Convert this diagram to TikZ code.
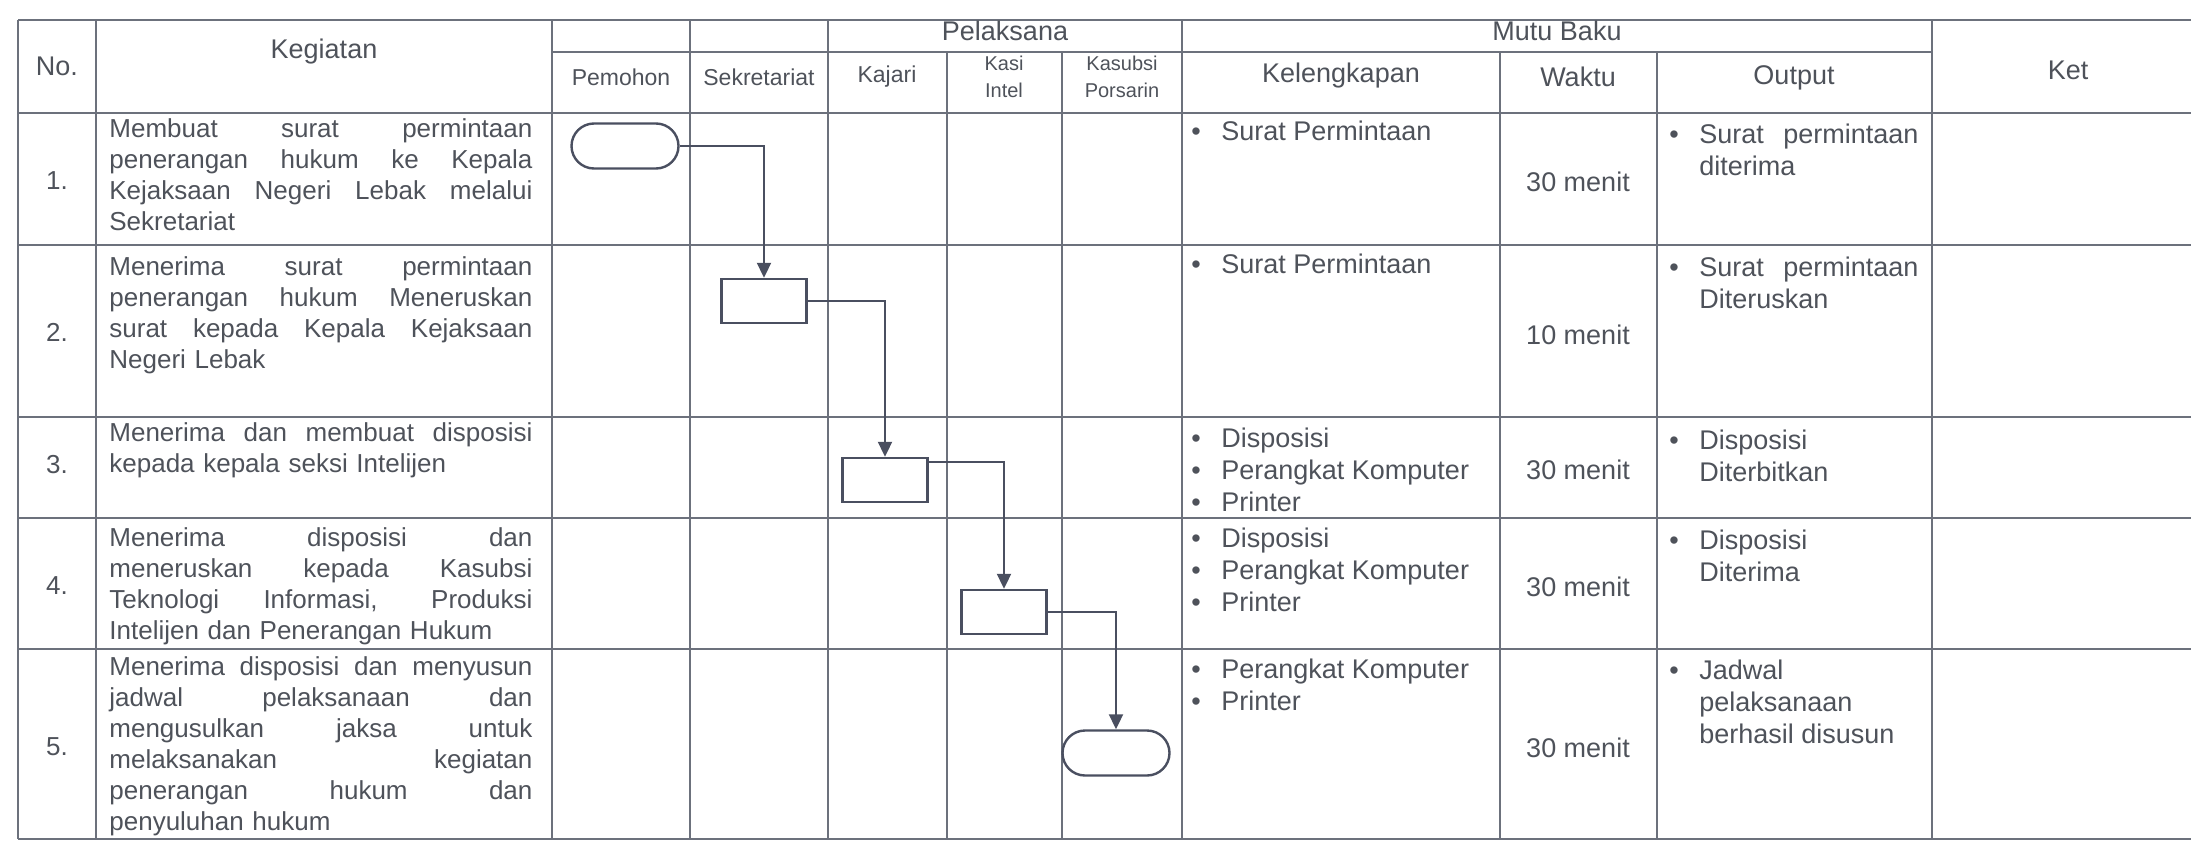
\documentclass[tikz,border=0pt]{standalone}
\usepackage{fontspec}
\setmainfont{Liberation Sans}
\usetikzlibrary{positioning, arrows.meta, shapes.misc}

\definecolor{gridline}{RGB}{108,113,124}
\definecolor{inktext}{RGB}{78,82,90}
\definecolor{flowline}{RGB}{74,79,96}

% justified line and bullet
\newcommand{\jl}[1]{\makebox[211.5pt][s]{\spaceskip=0.28em plus 1fil\relax #1}}
\newcommand{\bul}{\makebox[15pt][l]{\textbullet}}

\begin{document}
\begin{tikzpicture}[x=0.5pt, y=-0.5pt,
    % Styles
    tableline/.style={draw=gridline, line width=1pt},
    headtext/.style={font=\fontsize{13.5}{16}\selectfont, text=inktext, inner sep=0pt},
    subhead/.style={font=\fontsize{11.5}{13}\selectfont, text=inktext, inner sep=0pt},
    smallhead/.style={font=\fontsize{10}{13.5}\selectfont, text=inktext, align=center, inner sep=0pt},
    activity/.style={font=\fontsize{13}{15.5}\selectfont, text=inktext, inner sep=0pt, anchor=north west, text width=211.5pt, align=left},
    itemtext/.style={font=\fontsize{13.5}{16}\selectfont, text=inktext, inner sep=0pt, anchor=north west, align=left},
    numtext/.style={font=\fontsize{13}{15}\selectfont, text=inktext, inner sep=0pt},
    timetext/.style={font=\fontsize{13.5}{16}\selectfont, text=inktext, inner sep=0pt},
    terminal/.style={draw=flowline, line width=1.2pt, rounded rectangle, minimum width=53.5pt, minimum height=22.5pt, inner sep=0pt},
    process/.style={draw=flowline, line width=1.2pt, rectangle, minimum width=42.5pt, minimum height=22pt, inner sep=0pt},
    arrow/.style={-{Triangle[length=7.5pt, width=7pt]}, line width=1pt, flowline},
]
\useasboundingbox (0,0) rectangle (2191,841);

% Table grid
\draw[tableline] (18,20) -- (2191,20);
\draw[tableline] (552,52) -- (1932,52);
\draw[tableline] (18,113) -- (2191,113) (18,245) -- (2191,245) (18,417) -- (2191,417)
    (18,518) -- (2191,518) (18,649) -- (2191,649) (18,839) -- (2191,839);
\draw[tableline] (18,20) -- (18,839) (96,20) -- (96,839) (552,20) -- (552,839) (690,20) -- (690,839)
    (828,20) -- (828,839) (1182,20) -- (1182,839) (1932,20) -- (1932,839);
\draw[tableline] (947,52) -- (947,839) (1062,52) -- (1062,839) (1500,52) -- (1500,839) (1657,52) -- (1657,839);

% Header
\node[headtext] (hno) at (57,66) {No.};
\node[headtext] (hkeg) at (324,52) {Kegiatan};
\node[headtext] (hpel) at (1005,31) {Pelaksana};
\node[headtext] (hmutu) at (1557,31) {Mutu Baku};
\node[headtext] (hket) at (2068,70) {Ket};
\node[subhead] (hpem) at (621,77) {Pemohon};
\node[subhead] (hsek) at (759,77) {Sekretariat};
\node[subhead] (hkaj) at (887,77) {Kajari};
\node[smallhead] (hkasi) at (1004,77) {Kasi\\Intel};
\node[smallhead] (hkasub) at (1122,77) {Kasubsi\\Porsarin};
\node[headtext] (hkel) at (1341,76) {Kelengkapan};
\node[headtext] (hwak) at (1578,77) {Waktu};
\node[headtext] (hout) at (1794,78) {Output};

% Row numbers
\node[numtext] (n1) at (57,181) {1.};
\node[numtext] (n2) at (57,332) {2.};
\node[numtext] (n3) at (57,465) {3.};
\node[numtext] (n4) at (57,586) {4.};
\node[numtext] (n5) at (57,747) {5.};

% Kegiatan
\node[activity] (k1) at (109,118) {\jl{Membuat surat permintaan}\\\jl{penerangan hukum ke Kepala}\\\jl{Kejaksaan Negeri Lebak melalui}\\Sekretariat};
\node[activity] (k2) at (109,256) {\jl{Menerima surat permintaan}\\\jl{penerangan hukum Meneruskan}\\\jl{surat kepada Kepala Kejaksaan}\\Negeri Lebak};
\node[activity] (k3) at (109,422) {\jl{Menerima dan membuat disposisi}\\kepada kepala seksi Intelijen};
\node[activity] (k4) at (109,527) {\jl{Menerima disposisi dan}\\\jl{meneruskan kepada Kasubsi}\\\jl{Teknologi Informasi, Produksi}\\Intelijen dan Penerangan Hukum};
\node[activity] (k5) at (109,656) {\jl{Menerima disposisi dan menyusun}\\\jl{jadwal pelaksanaan dan}\\\jl{mengusulkan jaksa untuk}\\\jl{melaksanakan kegiatan}\\\jl{penerangan hukum dan}\\penyuluhan hukum};

% Flow
\node[terminal] (mulai) at (625,146) {};
\node[process] (terima) at (764,301) {};
\node[process] (disposisi) at (885,480) {};
\node[process] (teruskan) at (1004,612) {};
\node[terminal] (selesai) at (1116,753) {};
\draw[arrow] (mulai.east) -| (terima.north);
\draw[arrow] (terima.east) -| (disposisi.north);
\draw[arrow] ([yshift=-2.5pt]disposisi.north east) -| (teruskan.north);
\draw[arrow] (teruskan.east) -| (selesai.north);

% Kelengkapan
\node[itemtext] (l1) at (1191,121) {\bul Surat Permintaan};
\node[itemtext] (l2) at (1191,254) {\bul Surat Permintaan};
\node[itemtext] (l3) at (1191,428) {\bul Disposisi\\\bul Perangkat Komputer\\\bul Printer};
\node[itemtext] (l4) at (1191,528) {\bul Disposisi\\\bul Perangkat Komputer\\\bul Printer};
\node[itemtext] (l5) at (1191,659) {\bul Perangkat Komputer\\\bul Printer};

% Waktu
\node[timetext] (w1) at (1578,182) {30 menit};
\node[timetext] (w2) at (1578,335) {10 menit};
\node[timetext] (w3) at (1578,470) {30 menit};
\node[timetext] (w4) at (1578,587) {30 menit};
\node[timetext] (w5) at (1578,748) {30 menit};

% Output
\node[itemtext] (o1) at (1669,124) {\bul\makebox[109.5pt][s]{Surat permintaan}\\\hspace*{15pt}diterima};
\node[itemtext] (o2) at (1669,257) {\bul\makebox[109.5pt][s]{Surat permintaan}\\\hspace*{15pt}Diteruskan};
\node[itemtext] (o3) at (1669,430) {\bul Disposisi\\\hspace*{15pt}Diterbitkan};
\node[itemtext] (o4) at (1669,530) {\bul Disposisi\\\hspace*{15pt}Diterima};
\node[itemtext] (o5) at (1669,660) {\bul Jadwal\\\hspace*{15pt}pelaksanaan\\\hspace*{15pt}berhasil disusun};

\end{tikzpicture}
\end{document}
